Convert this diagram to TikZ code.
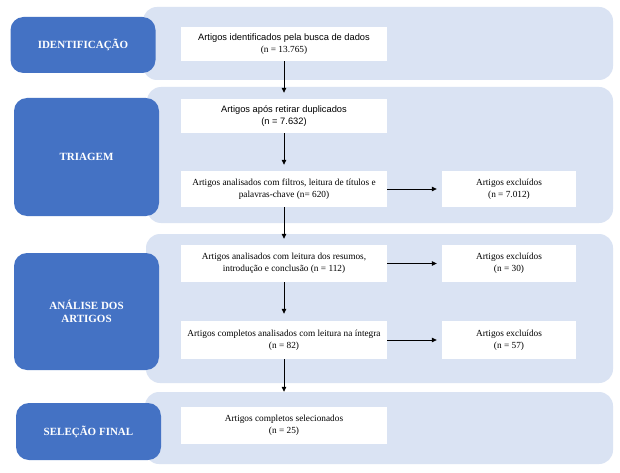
\documentclass[tikz,border=0pt]{standalone}
\usepackage{fontspec}
\setmainfont{Liberation Serif}
\newfontfamily\arialf{Liberation Sans}
\usetikzlibrary{arrows.meta}
\definecolor{panelc}{HTML}{DAE3F3}
\definecolor{darkc}{HTML}{4472C4}
\begin{document}
\begin{tikzpicture}[x=1pt,y=-1pt,
  panel/.style={fill=panelc, draw=none, rounded corners=14pt},
  stage/.style={fill=darkc, draw=none, rounded corners=13pt, text=white,
    font=\fontsize{11}{12.5}\selectfont\bfseries, align=center, inner sep=0pt,
    minimum width=145pt},
  wbox/.style={fill=white, draw=none, inner sep=0pt, align=center,
    font=\fontsize{9.3}{12}\selectfont},
  mainbox/.style={wbox, minimum width=206pt},
  exbox/.style={wbox, minimum width=134pt},
  arr/.style={-{Triangle[length=5pt,width=4.5pt]}, line width=0.8pt, black},
]
\useasboundingbox (0,0) rectangle (620,473);
\fill[white] (0,0) rectangle (620,473);

% panels
\path[panel] (143,7) rectangle (613,80);
\path[panel] (147,87) rectangle (613,223);
\path[panel] (146,234) rectangle (613,383);
\path[panel] (145,392) rectangle (613,464);

% stage labels
\node[stage, minimum height=56pt] (s1) at (83,45) {IDENTIFICAÇÃO};
\node[stage, minimum height=118pt] (s2) at (86.5,157) {TRIAGEM};
\node[stage, minimum height=117pt] (s3) at (86.5,311.5) {ANÁLISE DOS\\ARTIGOS};
\node[stage, minimum height=57pt] (s4) at (88.5,431.5) {SELEÇÃO FINAL};

% main column
\node[mainbox, minimum height=34pt] (b1) at (284,44)
  {{\arialf Artigos identificados pela busca de dados}\\(n = 13.765)};
\node[mainbox, minimum height=34pt, font=\fontsize{9.3}{12}\selectfont\arialf] (b2) at (284,116)
  {Artigos após retirar duplicados\\(n = 7.632)};
\node[mainbox, minimum height=36pt] (b3) at (284,189)
  {Artigos analisados com filtros, leitura de títulos e\\palavras-chave (n= 620)};
\node[mainbox, minimum height=37pt] (b4) at (284,263.5)
  {Artigos analisados com leitura dos resumos,\\introdução e conclusão (n = 112)};
\node[mainbox, minimum height=38pt] (b5) at (284,340)
  {Artigos completos analisados com leitura na íntegra\\(n = 82)};
\node[mainbox, minimum height=37pt] (b6) at (284,425.5)
  {Artigos completos selecionados\\(n = 25)};

% excluded
\node[exbox, minimum height=36pt] (e1) at (509,189) {Artigos excluídos\\(n = 7.012)};
\node[exbox, minimum height=37pt] (e2) at (509,263.5) {Artigos excluídos\\(n = 30)};
\node[exbox, minimum height=38pt] (e3) at (509,340) {Artigos excluídos\\(n = 57)};

% arrows
\draw[arr, shorten >=6pt] (b1) -- (b2);
\draw[arr, shorten >=6pt] (b2) -- (b3);
\draw[arr, shorten >=6pt] (b3) -- (b4);
\draw[arr, shorten >=7pt] (b4) -- (b5);
\draw[arr, shorten >=15pt] (b5) -- (b6);
\draw[arr, shorten >=5pt] (b3) -- (e1);
\draw[arr, shorten >=5pt] (b4) -- (e2);
\draw[arr, shorten >=5pt] (b5) -- (e3);
\end{tikzpicture}
\end{document}
